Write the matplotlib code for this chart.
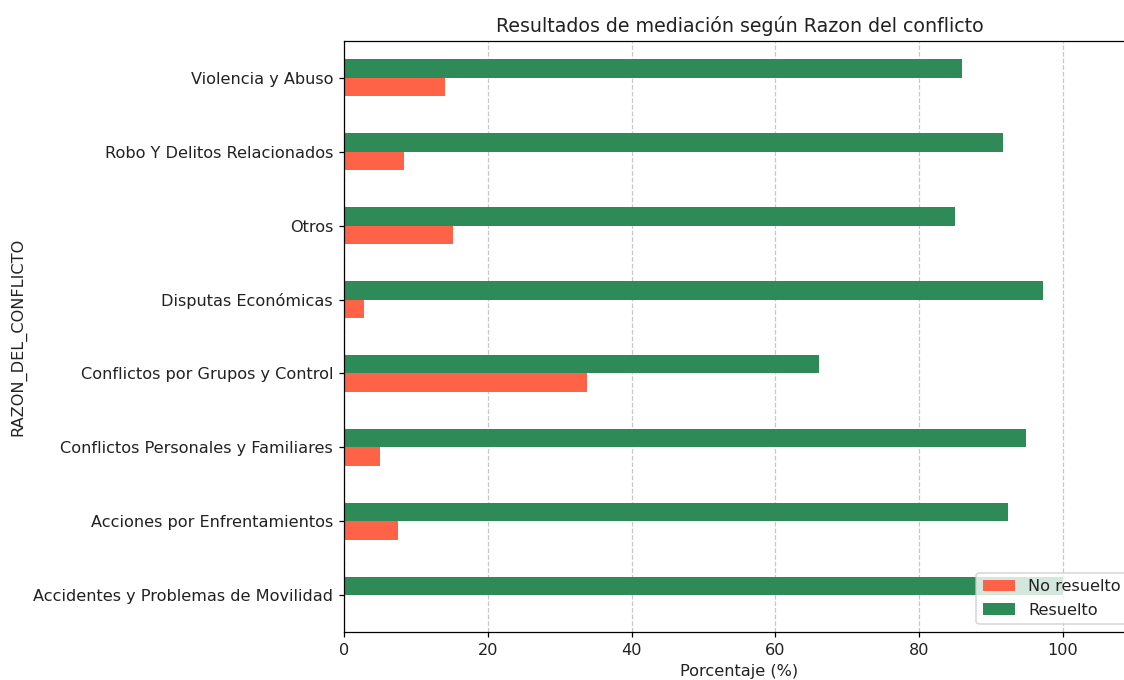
import matplotlib
matplotlib.use("Agg")
import matplotlib.pyplot as plt
import pandas as pd

categories = [
    "Accidentes y Problemas de Movilidad",
    "Acciones por Enfrentamientos",
    "Conflictos Personales y Familiares",
    "Conflictos por Grupos y Control",
    "Disputas Económicas",
    "Otros",
    "Robo Y Delitos Relacionados",
    "Violencia y Abuso",
]
no_resuelto = [0.0, 7.5, 5.0, 33.8, 2.8, 15.1, 8.3, 14.1]
resuelto = [100.0, 92.4, 94.9, 66.1, 97.2, 84.9, 91.6, 85.9]

plt.rcParams["font.size"] = 10.3
plt.rcParams["text.color"] = "#222222"
plt.rcParams["xtick.labelcolor"] = "#222222"
plt.rcParams["ytick.labelcolor"] = "#222222"
plt.rcParams["axes.labelcolor"] = "#222222"

df = pd.DataFrame({"No resuelto": no_resuelto, "Resuelto": resuelto},
                  index=pd.Index(categories, name="RAZON_DEL_CONFLICTO"))

fig = plt.figure(figsize=(10.0, 680 / 112.4), dpi=112.4)
ax = fig.add_axes([344 / 1124, 1 - 632 / 680, (1135 - 344) / 1124, (632 - 41) / 680])
df.plot(kind="barh", ax=ax, color=["#FF6347", "#2E8B57"])
ax.set_xlim(0, 110)
ax.set_title("Resultados de mediación según Razon del conflicto", fontsize=12.2)
ax.set_xlabel("Porcentaje (%)")
ax.set_ylabel("RAZON_DEL_CONFLICTO")
ax.grid(axis="x", linestyle="--", alpha=0.7)
ax.set_axisbelow(True)
ax.legend(loc="lower right")
fig.savefig("out.png", dpi=112.4)
